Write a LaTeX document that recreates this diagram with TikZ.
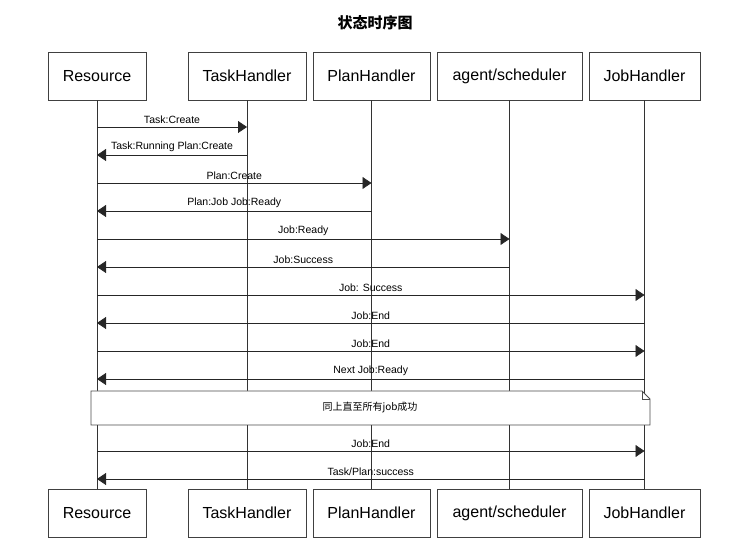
\documentclass[tikz,border=0pt]{standalone}
\usepackage{fontspec}
\setmainfont{Liberation Sans}
\newfontfamily\cjk{Noto Sans CJK SC}
\usetikzlibrary{arrows.meta,positioning}

\begin{document}
\begin{tikzpicture}[x=1pt,y=-1pt,
  actor/.style={draw=black!75,line width=0.8pt,fill=white,minimum height=48pt,inner sep=0pt,font=\fontsize{16}{18}\selectfont},
  lifeline/.style={draw=black!80,line width=0.8pt},
  msg/.style={draw=black!85,line width=0.8pt,-{Triangle[length=9pt,width=12pt]}},
  lbl/.style={above,inner sep=2.5pt,font=\fontsize{10.5}{12}\selectfont}]
  \useasboundingbox (0,0) rectangle (756,545);
  % title
  \node[font=\cjk\bfseries\fontsize{15}{17}\selectfont] (title) at (375,23) {状态时序图};
  % actors, top and bottom
  \foreach \n/\x/\w/\t in {res/97/98/Resource, task/247/118/TaskHandler, plan/371.5/117/PlanHandler,
                           agent/509.5/145/{agent/scheduler}, job/644.5/111/JobHandler} {
    \node[actor,minimum width=\w pt] (\n) at (\x,76) {\t};
    \node[actor,minimum width=\w pt] (\n B) at (\x,513) {\t};
    \draw[lifeline] (\n.south) -- (\n B.north);
  }
  % messages
  \foreach \a/\b/\y/\t in {res/task/127/{Task:Create}, task/res/155/{Task:Running Plan:Create},
                           res/plan/183/{Plan:Create}, plan/res/211/{Plan:Job Job:Ready},
                           res/agent/239/{Job:Ready}, agent/res/267/{Job:Success},
                           res/job/295/{Job: Success}, job/res/323/{Job:End},
                           res/job/351/{Job:End}, job/res/379/{Next Job:Ready},
                           res/job/451/{Job:End}, job/res/479/{Task/Plan:success}} {
    \coordinate (m) at (0,\y);
    \draw[msg] (\a |- m) -- (\b |- m) node[lbl,midway] {\t};
  }
  % note
  \filldraw[draw=black!70,line width=0.8pt,fill=white] (91,391) -- (642,391) -- (650,399) -- (650,425) -- (91,425) -- cycle;
  \draw[black!70,line width=0.8pt] (642,391) -- (642,399) -- (650,399);
  \node[font=\cjk\fontsize{10}{12}\selectfont] (note) at (370,408) {同上直至所有job成功};
\end{tikzpicture}
\end{document}
